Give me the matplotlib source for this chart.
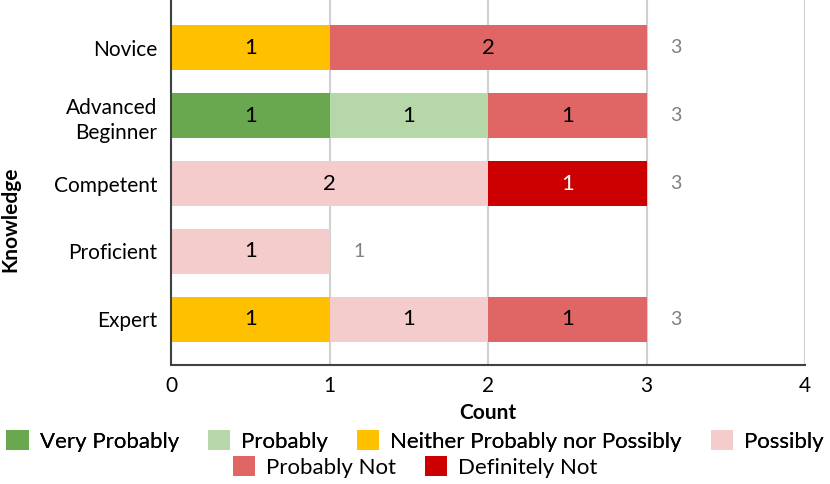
import matplotlib.pyplot as plt
import numpy as np

plt.rcParams['font.family'] = ['Lato', 'DejaVu Sans']

levels = ["Novice", "Advanced\nBeginner", "Competent", "Proficient", "Expert"]
responses = ["Very Probably", "Probably", "Neither Probably nor Possibly",
             "Possibly", "Probably Not", "Definitely Not"]
colors = ["#6AA84F", "#B6D7A8", "#FFC000", "#F4CCCC", "#E06666", "#CC0000"]

very_probably = [0, 1, 0, 0, 0]
probably = [0, 1, 0, 0, 0]
neither = [1, 0, 0, 0, 1]
possibly = [0, 0, 2, 1, 1]
probably_not = [2, 1, 0, 0, 1]
definitely_not = [0, 0, 1, 0, 0]

series = [very_probably, probably, neither, possibly, probably_not, definitely_not]

fig = plt.figure(figsize=(8.3, 4.84), dpi=100)
ax = fig.add_axes([171 / 830, 1 - 365 / 484, (805 - 171) / 830, 365 / 484])

y = np.arange(len(levels))
left = np.zeros(len(levels))
handles = []
for name, vals, col in zip(responses, series, colors):
    vals = np.array(vals, dtype=float)
    bars = ax.barh(y, vals, left=left, height=0.66, color=col, label=name, zorder=2)
    handles.append(bars)
    for yi, (l, v) in enumerate(zip(left, vals)):
        if v > 0:
            tc = "white" if col == "#CC0000" else "black"
            ax.text(l + v / 2, yi, f"{int(v)}", ha="center", va="center",
                    fontsize=16, color=tc, zorder=3)
    left += vals

# totals to the right of each bar
for yi, tot in enumerate(left):
    ax.text(tot + 0.15, yi, f"{int(tot)}", ha="left", va="center",
            fontsize=14, color="#808080")

ax.set_xlim(0, 4)
ax.set_ylim(4.67, -0.7)
ax.set_yticks(y)
ax.set_yticklabels(levels, fontsize=15, linespacing=1.35)
ax.set_xticks([0, 1, 2, 3, 4])
ax.tick_params(axis="x", labelsize=15, length=0, pad=8)
ax.tick_params(axis="y", length=0, pad=10)
ax.grid(axis="x", color="#D0D0D0", lw=1.5, zorder=0)
for s in ["top", "right"]:
    ax.spines[s].set_visible(False)
for s in ["left", "bottom"]:
    ax.spines[s].set_color("#404040")
    ax.spines[s].set_linewidth(1.5)
ax.set_xlabel("Count", fontsize=15, fontweight="bold")
ax.xaxis.set_label_coords(0.5, -0.105)
ax.set_ylabel("Knowledge", fontsize=15, fontweight="bold")
ax.yaxis.set_label_coords(-0.238, 0.4)

leg_kw = dict(frameon=False, fontsize=16, handlelength=1.0, handleheight=1.0,
              columnspacing=1.3, handletextpad=0.5, borderpad=0)
leg1 = fig.legend(handles[:4], responses[:4], loc="center",
                  bbox_to_anchor=(0.5, 1 - 441 / 484), ncol=4, **leg_kw)
fig.legend(handles[4:], responses[4:], loc="center",
           bbox_to_anchor=(0.5, 1 - 467 / 484), ncol=2, **leg_kw)
fig.add_artist(leg1)

fig.savefig("out.png", dpi=100)
